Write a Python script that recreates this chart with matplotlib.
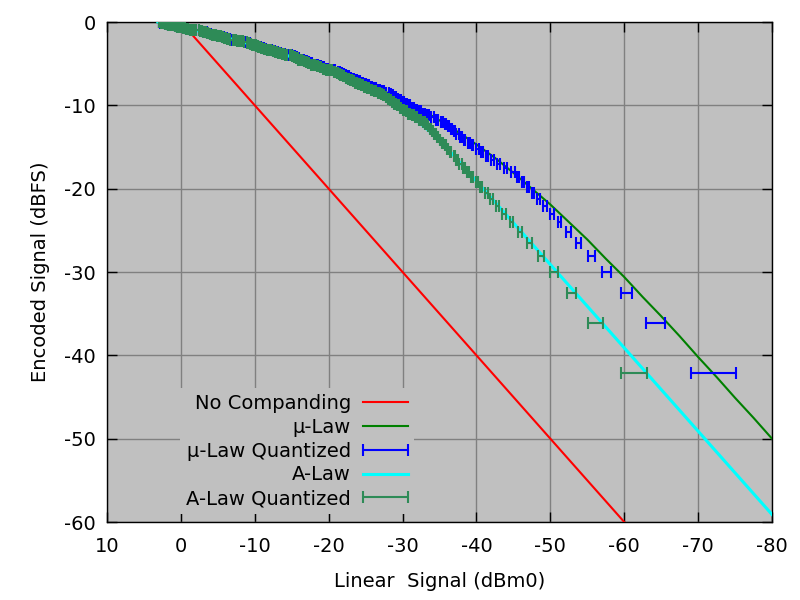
import matplotlib
matplotlib.use("Agg")
import matplotlib.pyplot as plt
from matplotlib.legend_handler import HandlerErrorbar

plt.rcParams['axes.unicode_minus'] = False

# ---- data -------------------------------------------------------------
# No companding reference line (dBm0 -> dBFS)
nc_x = [0, -60]
nc_y = [0, -60]

# continuous mu-law curve
mu_x = [3.2, 2.5, 0.0, -2.5, -5.0, -7.5, -10.0, -12.5, -15.0, -17.5, -20.0, -22.5, -25.0, -27.5,
        -30.0, -32.5, -35.0, -37.5, -40.0, -42.5, -45.0, -47.5, -50.0, -52.5, -55.0, -57.5,
        -60.0, -62.5, -65.0, -67.5, -70.0, -72.5, -75.0, -77.5, -80.0]
mu_y = [0.0, -0.1, -0.6, -1.1, -1.6, -2.2, -2.7, -3.4, -4.0, -4.8, -5.5, -6.4, -7.3, -8.3,
        -9.4, -10.5, -11.8, -13.2, -14.7, -16.3, -18.1, -20.0, -21.9, -24.0, -26.1, -28.4,
        -30.6, -33.0, -35.3, -37.7, -40.2, -42.6, -45.1, -47.5, -50.0]

# continuous A-law curve
a_x = [3.1, 0.0, -5.0, -10.0, -15.0, -20.0, -25.0, -30.0, -35.0, -35.8, -80.0]
a_y = [0.0, -0.6, -1.6, -2.8, -4.2, -5.8, -7.8, -10.4, -14.1, -14.9, -59.1]

# encoded level of each quantized code, tenths of dB below full scale
code_att = [421,361,325,300,281,265,252,240,230,221,212,205,198,192,186,180,175,170,165,161,
            156,152,148,145,141,138,134,131,128,125,122,120,117,114,112,110,107,105,103,100,
            98,96,94,92,90,88,86,85,83,81,79,78,76,74,73,71,70,68,67,65,64,62,61,60,58,57,56,
            54,53,52,51,49,48,47,46,45,43,42,41,40,39,38,37,36,35,34,33,32,31,30,29,28,27,26,25,
            24,23,23,22,21,20,19,18,17,17,16,15,14,13,12,12,11,10,9,9,8,7,6,6,5,4,3,3,2,1,1,0]

# mu-law quantized input ranges, tenths of dB below 0 dBm0
mu_lo_att = [751,655,611,582,560,542,528,515,505,495,486,478,471,464,458,452,442,432,424,416,409,403,
             396,391,385,380,376,371,367,363,359,355,348,342,336,330,325,320,315,310,306,302,298,294,
             291,287,284,281,275,269,264,259,254,250,246,242,238,234,230,227,224,221,218,215,209,204,
             199,194,190,185,181,177,174,170,167,163,160,157,154,151,146,141,136,131,127,123,119,115,
             112,108,105,102,98,95,93,90,84,79,75,70,66,62,58,54,50,47,44,41,37,35,32,29,24,19,14,9,5,
             1,-3,-7,-10,-14,-17,-20,-23,-26,-29]
mu_hi_att = [690,630,595,570,551,535,521,510,500,490,482,475,468,461,455,447,437,428,420,413,406,399,
             394,388,383,378,373,369,365,361,357,352,345,338,333,327,322,317,313,308,304,300,296,293,
             289,286,283,278,272,267,262,257,252,248,244,240,236,232,229,225,222,219,216,212,206,201,
             196,192,187,183,179,175,172,168,165,162,159,156,153,149,143,138,134,129,125,121,117,113,
             110,106,103,100,97,94,91,87,82,77,72,68,64,60,56,52,49,45,42,39,36,33,30,26,21,16,12,7,3,
             -1,-5,-8,-12,-15,-18,-22,-25,-28,-30]

# A-law quantized input ranges, tenths of dB below 0 dBm0
a_lo_att = [631,571,535,510,491,475,462,450,440,431,423,415,408,402,396,390,385,380,375,371,
            366,362,359,355,351,348,345,341,338,335,333,330,325,320,315,310,306,302,298,295,
            291,288,284,281,278,275,272,270,264,259,
            255,250,246,242,238,234,231,227,224,221,218,215,212,209,204,199,194,190,186,182,
            178,174,171,167,164,161,158,155,152,149,144,139,134,130,126,122,118,114,110,107,
            104,101,98,95,92,89,84,79,74,70,65,61,57,54,50,47,44,40,37,34,
            32,29,24,19,14,9,5,1,-3,-6,-10,-13,-17,-20,-23,-26,-29]
a_hi_att = [596,551,522,500,483,468,456,445,435,427,419,411,405,399,393,387,382,377,373,369,364,360,
            357,353,350,346,343,340,337,334,331,327,322,317,313,308,304,300,296,293,289,286,283,280,
            277,274,271,267,262,257,252,248,244,240,236,233,229,226,223,219,216,214,211,207,202,197,
            192,188,184,180,176,172,169,166,162,159,156,153,151,147,141,137,132,128,124,120,116,112,
            109,105,102,99,96,93,90,86,81,76,72,67,63,59,56,52,49,45,42,39,36,33,30,26,21,16,12,7,3,
            -1,-5,-8,-12,-15,-18,-21,-24,-27,-30]

x_ticks = [10, 0, -10, -20, -30, -40, -50, -60, -70, -80]
y_ticks = [0, -10, -20, -30, -40, -50, -60]

labels = ['No Companding', 'µ-Law', 'µ-Law Quantized', 'A-Law', 'A-Law Quantized']

# ---- convert to plotting units ---------------------------------------
q_y = [-v / 10 for v in code_att]
mu_lo = [-v / 10 for v in mu_lo_att]
mu_hi = [-v / 10 for v in mu_hi_att]
a_lo = [-v / 10 for v in a_lo_att]
a_hi = [-v / 10 for v in a_hi_att]
n = len(q_y)

# ---- figure -----------------------------------------------------------
fig = plt.figure(figsize=(8, 6), dpi=100)
ax = fig.add_axes([107/800, 78/600, 665/800, 500/600])
ax.set_facecolor('#c0c0c0')

l1, = ax.plot(nc_x, nc_y, color='#ff0000', lw=1.5, label=labels[0], zorder=3)
l2, = ax.plot(mu_x, mu_y, color='#008000', lw=1.5, label=labels[1], zorder=3)
eb1 = ax.errorbar(mu_hi, q_y, xerr=[[h - l for l, h in zip(mu_lo, mu_hi)], [0] * n], fmt='none',
                  ecolor='#0000ff', elinewidth=1.5, capsize=4, capthick=1.5, label=labels[2], zorder=4)
l3, = ax.plot(a_x, a_y, color='#00ffff', lw=2.2, label=labels[3], zorder=5)
eb2 = ax.errorbar(a_hi, q_y, xerr=[[h - l for l, h in zip(a_lo, a_hi)], [0] * n], fmt='none',
                  ecolor='#2e8b57', elinewidth=1.5, capsize=4, capthick=1.5, label=labels[4], zorder=6)

ax.set_xlim(10, -80)
ax.set_ylim(-60, 0)
ax.set_xticks(x_ticks)
ax.set_yticks(y_ticks)
ax.grid(True, color='#808080', lw=1)
ax.set_axisbelow(True)
ax.tick_params(direction='in', length=7, width=1, top=True, right=True, labelsize=14, colors='black')
ax.tick_params(axis='x', pad=10.5)
ax.tick_params(axis='y', pad=8)
for sp in ax.spines.values():
    sp.set_linewidth(1)
ax.set_xlabel('Linear  Signal (dBm0)', fontsize=14, labelpad=12)
ax.set_ylabel('Encoded Signal (dBFS)', fontsize=14, labelpad=10)

ax.legend(handles=[l1, l2, eb1, l3, eb2], loc='upper right', bbox_to_anchor=(0.462, 0.268),
          markerfirst=False, frameon=True, facecolor='#c0c0c0', edgecolor='none', framealpha=1,
          fancybox=False, fontsize=14, handlelength=2.36, handletextpad=0.6, labelspacing=0.25,
          borderpad=0.3, borderaxespad=0,
          handler_map={eb1: HandlerErrorbar(xerr_size=1.18), eb2: HandlerErrorbar(xerr_size=1.18)})

fig.savefig("out.png")
